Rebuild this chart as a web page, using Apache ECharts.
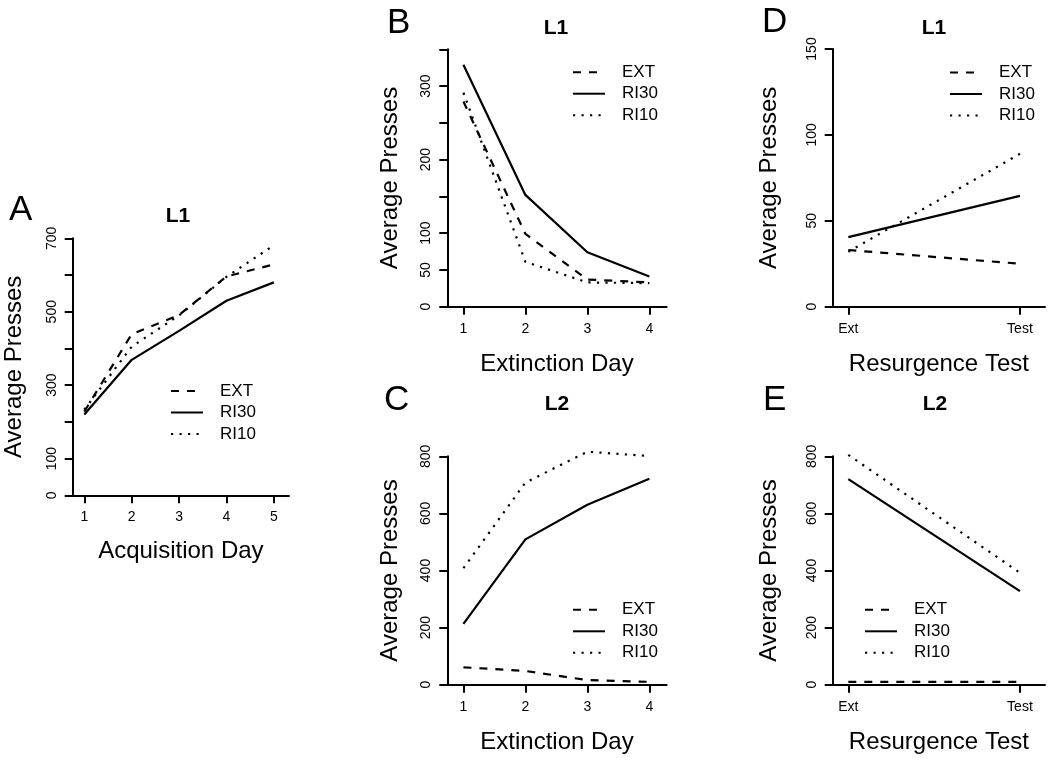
<!DOCTYPE html>
<html><head><meta charset="utf-8">
<script src="https://cdn.jsdelivr.net/npm/echarts@6/dist/echarts.min.js"></script>
<style>html,body{margin:0;padding:0;background:#fff}#c{width:1050px;height:760px}</style>
</head><body><div id="c"></div>
<script>
// ---- data ----
const seriesNames = ['EXT', 'RI30', 'RI10'];
const acqDays = [1, 2, 3, 4, 5];
const extDays = [1, 2, 3, 4];
const testX = [1, 2];
const testLabels = ['Ext', 'Test'];

const A_EXT  = [228, 439, 491, 596, 629];
const A_RI30 = [220, 369, 448, 530, 580];
const A_RI10 = [233, 405, 490, 595, 681];

const B_EXT  = [279, 99, 37, 33];
const B_RI30 = [329, 152, 74, 41];
const B_RI10 = [291, 61, 33, 32];

const C_EXT  = [61, 48, 16, 10];
const C_RI30 = [213, 509, 630, 721];
const C_RI10 = [408, 708, 816, 801];

const D_EXT  = [33, 25];
const D_RI30 = [40.5, 64.5];
const D_RI10 = [32, 89];

const E_EXT  = [10, 10];
const E_RI30 = [720, 328];
const E_RI10 = [805, 392];

const yLabelsA = [0, 100, 300, 500, 700];
const yLabelsB = [0, 50, 100, 200, 300];
const yLabelsC = [0, 200, 400, 600, 800];
const yLabelsD = [0, 50, 100, 150];
const yLabelsE = [0, 200, 400, 600, 800];

// ---- layout ----
const FONT = "'Liberation Sans', Arial, Helvetica, sans-serif";
const panels = [
  { letter: 'A', title: 'L1', xs: acqDays, vals: [A_EXT, A_RI30, A_RI10], xName: 'Acquisition Day',
    grid: { left: 72.7, top: 238.3, width: 216.3, height: 257 }, xMin: 0.755, xMax: 5.32,
    yMax: 700, yInt: 100, yLabels: yLabelsA, yGap: 46, xGap: 44,
    legend: { left: 170, top: 382.5 }, titlePos: [178, 216], letterPos: [9, 193] },
  { letter: 'B', title: 'L1', xs: extDays, vals: [B_EXT, B_RI30, B_RI10], xName: 'Extinction Day',
    grid: { left: 447.3, top: 49.3, width: 219.4, height: 257.4 }, xMin: 0.74, xMax: 4.28,
    yMax: 350, yInt: 50, yLabels: yLabelsB, yGap: 45, xGap: 46,
    legend: { left: 572, top: 63.7 }, titlePos: [556, 28], letterPos: [387, 6] },
  { letter: 'C', title: 'L2', xs: extDays, vals: [C_EXT, C_RI30, C_RI10], xName: 'Extinction Day',
    grid: { left: 447.3, top: 456.3, width: 219.4, height: 228.4 }, xMin: 0.74, xMax: 4.28,
    yMax: 800, yInt: 200, yLabels: yLabelsC, yGap: 45, xGap: 46,
    legend: { left: 572, top: 601.3 }, titlePos: [557, 404.5], letterPos: [384, 383] },
  { letter: 'D', title: 'L1', xs: testX, vals: [D_EXT, D_RI30, D_RI10], xName: 'Resurgence Test',
    grid: { left: 832.7, top: 49, width: 212.3, height: 257.7 }, xMin: 0.909, xMax: 2.146,
    yMax: 150, yInt: 50, yLabels: yLabelsD, yGap: 51, xGap: 46, cat: true,
    legend: { left: 949, top: 64 }, titlePos: [934, 28], letterPos: [762, 5] },
  { letter: 'E', title: 'L2', xs: testX, vals: [E_EXT, E_RI30, E_RI10], xName: 'Resurgence Test',
    grid: { left: 832.7, top: 456.3, width: 212.3, height: 228.4 }, xMin: 0.909, xMax: 2.146,
    yMax: 800, yInt: 200, yLabels: yLabelsE, yGap: 51, xGap: 46, cat: true,
    legend: { left: 864, top: 601.3 }, titlePos: [935, 404.5], letterPos: [763, 383] }
];

const lineTypes = { EXT: [8, 8], RI30: 'solid', RI10: [2.2, 6.3] };
const axisLineStyle = { color: '#000', width: 2 };

const grids = [], xAxes = [], yAxes = [], series = [], legends = [], graphics = [];
panels.forEach((p, i) => {
  grids.push(Object.assign({ containLabel: false }, p.grid));
  xAxes.push({
    type: 'value', gridIndex: i, min: p.xMin, max: p.xMax,
    axisLine: { onZero: false, lineStyle: axisLineStyle },
    axisTick: { length: 8, lineStyle: axisLineStyle, customValues: p.xs },
    axisLabel: { customValues: p.xs, margin: 15, fontSize: 14, color: '#000', fontFamily: FONT,
      formatter: v => p.cat ? testLabels[Math.round(v) - 1] : String(v) },
    splitLine: { show: false },
    name: p.xName, nameLocation: 'middle', nameGap: p.xGap,
    nameTextStyle: { fontSize: 24, color: '#000', fontFamily: FONT }
  });
  yAxes.push({
    type: 'value', gridIndex: i, min: 0, max: p.yMax, interval: p.yInt,
    axisLine: { show: true, onZero: false, lineStyle: axisLineStyle },
    axisTick: { show: true, length: 8, lineStyle: axisLineStyle },
    axisLabel: { customValues: p.yLabels, rotate: 90, margin: 14, fontSize: 14, color: '#000', fontFamily: FONT },
    splitLine: { show: false },
    name: 'Average Presses', nameLocation: 'middle', nameGap: p.yGap,
    nameTextStyle: { fontSize: 24, color: '#000', fontFamily: FONT }
  });
  seriesNames.forEach((n, k) => {
    series.push({
      type: 'line', name: n, xAxisIndex: i, yAxisIndex: i, symbol: 'none', clip: false,
      silent: true, animation: false,
      data: p.xs.map((x, j) => [x, p.vals[k][j]]),
      lineStyle: { color: '#000', width: 2.2, type: lineTypes[n], cap: 'butt' },
      itemStyle: { color: '#000' }
    });
  });
  legends.push({
    data: seriesNames, orient: 'vertical', left: p.legend.left, top: p.legend.top,
    padding: 0, itemWidth: 32, itemHeight: 14, itemGap: 4.5, selectedMode: false,
    itemStyle: { color: 'rgba(0,0,0,0)', borderColor: 'rgba(0,0,0,0)', borderWidth: 0 },
    textStyle: { fontSize: 17, color: '#000', fontFamily: FONT, padding: [0, 0, 0, 12] }
  });
  graphics.push({ type: 'text', x: p.titlePos[0], y: p.titlePos[1],
    style: { text: p.title, font: 'bold 21px ' + FONT, fill: '#000', align: 'center', verticalAlign: 'middle' } });
  graphics.push({ type: 'text', x: p.letterPos[0], y: p.letterPos[1],
    style: { text: p.letter, font: '35px ' + FONT, fill: '#000', align: 'left', verticalAlign: 'top' } });
});

const chart = echarts.init(document.getElementById('c'), null, { renderer: 'canvas' });
chart.setOption({
  backgroundColor: '#fff', animation: false,
  grid: grids, xAxis: xAxes, yAxis: yAxes, series: series, legend: legends, graphic: graphics
});
</script></body></html>
